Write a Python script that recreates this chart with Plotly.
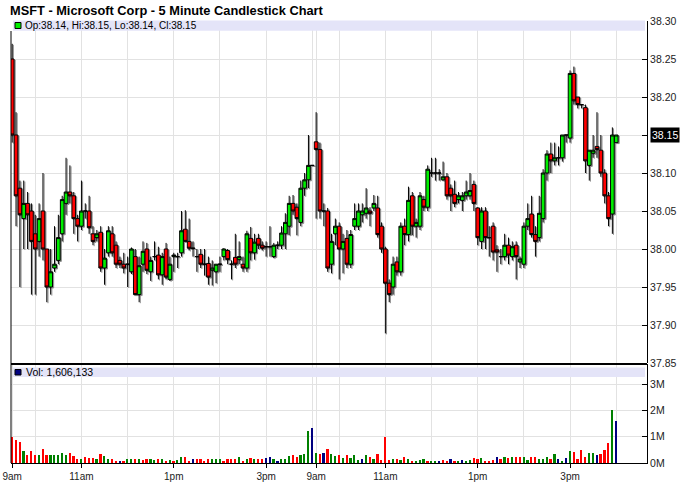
import plotly.graph_objects as go

TITLE = "MSFT - Microsoft Corp - 5 Minute Candlestick Chart"
PRICE_LEGEND = "Op:38.14, Hi:38.15, Lo:38.14, Cl:38.15"
VOL_LEGEND = "Vol: 1,606,133"
LAST_PRICE = 38.15

# ---- Day 1: 5-minute bars 9:30 .. 16:00 ----
OPEN1 = [38.25, 38.15, 38.08, 38.04, 38.06, 38.05, 38.02, 38.01, 38.05, 38.00,
         37.95, 37.975, 37.985, 38.02, 38.06, 38.075, 38.07, 38.04, 38.03, 38.05,
         38.05, 38.02, 38.015, 38.022, 37.975, 37.995, 38.02, 38.005, 37.985, 37.98,
         37.98, 37.97, 37.99, 37.94, 37.98, 38.00, 37.97, 37.99, 37.992, 37.966,
         38.00, 37.96, 37.99, 37.99, 37.995, 38.026, 38.01, 38.001, 37.99, 37.993,
         37.98, 37.981, 37.972, 37.970, 37.98, 37.99, 37.998, 37.98, 37.989, 37.986,
         37.98, 37.975, 38.014, 37.995, 38.014, 38.005, 38.003, 38.003, 37.99, 38.005,
         38.005, 38.02, 38.03, 38.06, 38.055, 38.035, 38.08, 38.091, 38.11]
HIGH1 = [38.27, 38.18, 38.09, 38.09, 38.075, 38.06, 38.045, 38.06, 38.10, 38.00,
         38.00, 38.03, 38.045, 38.07, 38.12, 38.11, 38.075, 38.045, 38.09, 38.06,
         38.07, 38.03, 38.025, 38.03, 38.00, 38.03, 38.03, 38.01, 37.99, 37.995,
         37.99, 38.002, 38.00, 37.99, 38.01, 38.008, 37.99, 38.01, 38.003, 37.995,
         38.008, 37.99, 37.995, 37.995, 38.05, 38.051, 38.04, 38.01, 38.00, 38.00,
         38.00, 37.99, 37.985, 37.98, 37.99, 38.001, 38.00, 37.985, 38.02, 38.01,
         37.99, 38.024, 38.029, 38.02, 38.02, 38.01, 38.01, 38.03, 38.008, 38.01,
         38.03, 38.047, 38.07, 38.071, 38.06, 38.09, 38.10, 38.15, 38.11]
LOW1 = [38.14, 38.03, 37.95, 38.00, 38.00, 37.94, 37.94, 37.99, 37.985, 37.93,
        37.94, 37.97, 37.98, 38.01, 38.045, 38.06, 38.02, 38.01, 38.025, 38.04,
        38.02, 38.005, 38.01, 37.97, 37.953, 37.99, 37.99, 37.975, 37.975, 37.968,
        37.95, 37.967, 37.94, 37.93, 37.97, 37.967, 37.958, 37.985, 37.96, 37.953,
        37.96, 37.958, 37.97, 37.975, 37.99, 38.01, 37.998, 37.99, 37.97, 37.975,
        37.965, 37.953, 37.952, 37.955, 37.97, 37.985, 37.98, 37.96, 37.975, 37.98,
        37.97, 37.97, 37.985, 37.986, 38.00, 37.998, 37.99, 37.99, 37.988, 38.00,
        38.00, 38.00, 38.018, 38.045, 38.018, 38.03, 38.07, 38.08, 38.11]
CLOSE1 = [38.15, 38.07, 38.045, 38.06, 38.045, 38.01, 38.00, 38.04, 38.00, 37.95,
          37.97, 37.98, 38.015, 38.065, 38.075, 38.07, 38.04, 38.03, 38.05, 38.05,
          38.028, 38.01, 38.02, 37.975, 37.988, 38.024, 37.995, 37.98, 37.98, 37.975,
          37.98, 38.00, 37.94, 37.978, 37.997, 37.972, 37.985, 37.99, 37.966, 37.99,
          37.963, 37.98, 37.992, 37.99, 38.024, 38.01, 38.001, 38.001, 37.99, 37.98,
          37.98, 37.963, 37.975, 37.98, 37.98, 38.00, 37.986, 37.98, 37.98, 37.99,
          37.975, 38.02, 37.995, 38.009, 38.005, 38.001, 38.003, 38.003, 38.005, 38.005,
          38.021, 38.035, 38.06, 38.05, 38.04, 38.08, 38.091, 38.11, 38.11]

# ---- Day 2: 5-minute bars 9:30 .. 16:00 ----
OPEN2 = [38.141, 38.131, 38.05, 38.05, 37.98, 38.02, 38.03, 38.00, 38.014, 37.98,
         38.03, 38.03, 38.045, 38.047, 38.05, 38.054, 38.054, 38.03, 38.00, 37.955,
         37.95, 37.983, 37.97, 38.03, 38.019, 38.07, 38.03, 38.03, 38.065, 38.055,
         38.10, 38.10, 38.10, 38.091, 38.095, 38.08, 38.072, 38.065, 38.064, 38.07,
         38.07, 38.085, 38.054, 38.01, 38.05, 38.015, 38.03, 37.999, 37.99, 37.99,
         38.005, 37.99, 38.005, 37.983, 37.98, 38.03, 38.046, 38.019, 38.015, 38.04,
         38.10, 38.125, 38.116, 38.12, 38.12, 38.15, 38.146, 38.231, 38.20, 38.19,
         38.186, 38.11, 38.126, 38.135, 38.13, 38.10, 38.07, 38.046, 38.14]
HIGH2 = [38.18, 38.14, 38.06, 38.054, 38.02, 38.04, 38.035, 38.02, 38.025, 38.025,
         38.06, 38.06, 38.06, 38.08, 38.055, 38.071, 38.07, 38.035, 38.003, 37.96,
         37.99, 37.99, 38.035, 38.04, 38.082, 38.075, 38.04, 38.075, 38.07, 38.11,
         38.12, 38.12, 38.105, 38.115, 38.10, 38.085, 38.09, 38.075, 38.075, 38.09,
         38.10, 38.09, 38.055, 38.055, 38.055, 38.03, 38.035, 38.005, 38.00, 38.02,
         38.015, 38.01, 38.01, 37.99, 38.035, 38.06, 38.07, 38.03, 38.07, 38.105,
         38.13, 38.14, 38.14, 38.135, 38.15, 38.15, 38.235, 38.24, 38.20, 38.19,
         38.19, 38.13, 38.15, 38.18, 38.15, 38.105, 38.075, 38.16, 38.15]
LOW2 = [38.04, 38.04, 38.03, 37.97, 37.968, 38.005, 37.96, 37.968, 37.975, 37.975,
        38.025, 38.025, 38.035, 38.04, 38.03, 38.05, 38.015, 37.995, 37.889, 37.93,
        37.94, 37.965, 37.965, 38.005, 38.01, 38.018, 38.015, 38.025, 38.05, 38.05,
        38.095, 38.09, 38.09, 38.09, 38.065, 38.05, 38.055, 38.06, 38.05, 38.065,
        38.065, 38.05, 38.005, 38.00, 38.00, 37.99, 37.985, 37.97, 37.98, 37.985,
        37.98, 37.985, 37.96, 37.975, 37.975, 38.025, 38.015, 37.99, 38.01, 38.035,
        38.09, 38.10, 38.11, 38.11, 38.115, 38.14, 38.14, 38.19, 38.185, 38.185,
        38.10, 38.09, 38.12, 38.12, 38.095, 38.06, 38.03, 38.02, 38.14]
CLOSE2 = [38.131, 38.05, 38.05, 37.975, 38.01, 38.03, 38.00, 38.01, 37.98, 38.019,
          38.04, 38.05, 38.05, 38.054, 38.047, 38.06, 38.019, 38.00, 37.955, 37.94,
          37.98, 37.97, 38.03, 38.019, 38.064, 38.03, 38.035, 38.07, 38.055, 38.105,
          38.10, 38.10, 38.10, 38.095, 38.07, 38.07, 38.06, 38.07, 38.07, 38.075,
          38.077, 38.06, 38.015, 38.05, 38.015, 38.015, 37.996, 37.996, 37.99, 38.005,
          37.992, 38.003, 37.99, 37.987, 38.03, 38.04, 38.019, 38.01, 38.047, 38.10,
          38.125, 38.116, 38.12, 38.12, 38.15, 38.15, 38.231, 38.195, 38.19, 38.19,
          38.116, 38.13, 38.13, 38.131, 38.10, 38.07, 38.04, 38.15, 38.15]

# ---- Volume (shares) ----
VOLUME1 = [980000, 890000, 800000, 470000, 290000, 470000, 290000, 290000, 550000, 290000,
           320000, 290000, 290000, 370000, 290000, 390000, 250000, 140000, 170000, 220000,
           180000, 180000, 140000, 340000, 250000, 170000, 170000, 90000, 90000, 90000,
           140000, 140000, 170000, 170000, 110000, 170000, 140000, 110000, 170000, 170000,
           90000, 110000, 90000, 110000, 240000, 220000, 90000, 140000, 140000, 140000,
           90000, 140000, 170000, 170000, 140000, 90000, 140000, 140000, 140000, 220000,
           90000, 140000, 190000, 170000, 140000, 140000, 190000, 220000, 140000, 90000,
           140000, 170000, 270000, 290000, 240000, 290000, 340000, 1230000, 1330000]
VOLUME2 = [380000, 360000, 390000, 530000, 360000, 250000, 290000, 190000, 320000, 190000,
           290000, 110000, 140000, 320000, 220000, 170000, 360000, 110000, 1000000, 110000,
           170000, 170000, 110000, 220000, 170000, 90000, 60000, 110000, 140000, 90000,
           90000, 90000, 90000, 110000, 90000, 170000, 90000, 60000, 110000, 60000,
           110000, 190000, 170000, 190000, 90000, 90000, 110000, 220000, 140000, 240000,
           190000, 240000, 240000, 240000, 240000, 110000, 240000, 240000, 170000, 170000,
           240000, 170000, 340000, 170000, 90000, 190000, 460000, 420000, 170000, 500000,
           220000, 380000, 380000, 320000, 340000, 500000, 760000, 2030000, 1606133]
# volume bar direction vs previous close: r = down, g = up, n = unchanged
VOL_DIR1 = "rrrgrrrgrr" "gggggrrrgr" "rrgrggrrnr" "ggrgrrggrg" "rgrggrrnrr" "rrgggrrrrg" "rgrgrrnngn" "gggrrgggn"
VOL_DIR2 = "grnrggrgrg" "ggngrgrrrr" "grgrgrgggr" "ggnrrnrgng" "grrgrrrnrg" "rgrrggrrgg" "grgngngrrr" "rggnrrrgn"

# ---- Axis ticks ----
TICK_BARS = [0, 18, 42, 66, 79, 97, 121, 145]
TICK_TEXT = ["9am", "11am", "1pm", "3pm", "9am", "11am", "1pm", "3pm"]
HOUR_BARS = [6, 18, 30, 42, 54, 66, 78, 79, 85, 97, 109, 121, 133, 145, 157]
PRICE_TICKS = [37.85, 37.90, 37.95, 38.00, 38.05, 38.10, 38.15, 38.20, 38.25, 38.30]
VOL_TICKS = [0, 1000000, 2000000, 3000000]
VOL_TICK_TEXT = ["0M", "1M", "2M", "3M"]

OPEN = OPEN1 + OPEN2
HIGH = HIGH1 + HIGH2
LOW = LOW1 + LOW2
CLOSE = CLOSE1 + CLOSE2
VOLUME = VOLUME1 + VOLUME2
VOL_DIR = VOL_DIR1 + VOL_DIR2
X = list(range(len(OPEN)))

# ---- layout geometry (page pixels) ----
W, H = 688, 503
PLOT_L, PLOT_R, PLOT_T, PLOT_B = 11, 647, 21, 463
ML, MR, MT, MB = PLOT_L, W - PLOT_R, PLOT_T, H - PLOT_B
PW, PH = PLOT_R - PLOT_L, PLOT_B - PLOT_T


def xp(px):
    return (px - PLOT_L) / PW


def yp(py):
    return (PLOT_B - py) / PH


FONT = "Liberation Sans, Arial, sans-serif"
GRID = "#e2e2e2"
DIR_COLORS = {"r": "#ff0000", "g": "#008000", "n": "#000080"}
XRANGE = [-0.31, 165.0]
YRANGE = [37.85, 38.30]
SHADOW_DX = 0.3      # shadow offset, bar units (to the right)
SHADOW_DY = 0.0013   # shadow offset, price units (downwards)

fig = go.Figure()

# grey drop shadow: same candles drawn on an overlay axis pair whose range is shifted
fig.add_trace(go.Candlestick(
    x=X, open=OPEN, high=HIGH, low=LOW, close=CLOSE,
    increasing=dict(line=dict(color="#8c8c8c", width=1), fillcolor="#8c8c8c"),
    decreasing=dict(line=dict(color="#8c8c8c", width=1), fillcolor="#8c8c8c"),
    whiskerwidth=0, xaxis="x3", yaxis="y3", showlegend=False, hoverinfo="skip",
))

fig.add_trace(go.Candlestick(
    x=X, open=OPEN, high=HIGH, low=LOW, close=CLOSE,
    increasing=dict(line=dict(color="#000000", width=1), fillcolor="#00ee00"),
    decreasing=dict(line=dict(color="#000000", width=1), fillcolor="#ff0000"),
    whiskerwidth=0, xaxis="x4", yaxis="y4", showlegend=False, hoverinfo="skip",
))

fig.add_trace(go.Bar(
    x=X, y=VOLUME, width=0.45,
    marker=dict(color=[DIR_COLORS[d] for d in VOL_DIR], line=dict(width=0)),
    xaxis="x2", yaxis="y2", showlegend=False, hoverinfo="skip",
))

price_bottom = yp(363)
vol_top = yp(364)

hidden = dict(visible=False, showgrid=False, zeroline=False, automargin=False)

fig.update_layout(
    width=W, height=H,
    margin=dict(l=ML, r=MR, t=MT, b=MB, autoexpand=False),
    paper_bgcolor="white", plot_bgcolor="white",
    font=dict(family=FONT, size=10, color="#222222"),
    boxgap=0.05, boxgroupgap=0, boxmode="overlay",
    xaxis=dict(domain=[0, 1], anchor="y", range=XRANGE, tickmode="array",
               tickvals=HOUR_BARS, showticklabels=False, ticks="",
               showgrid=True, gridcolor=GRID, gridwidth=1, zeroline=False,
               rangeslider=dict(visible=False), showline=False, automargin=False),
    xaxis2=dict(domain=[0, 1], anchor="y2", range=XRANGE, tickmode="array",
                tickvals=TICK_BARS, ticktext=TICK_TEXT, ticks="outside",
                ticklen=4, tickcolor="#000000", tickfont=dict(size=10, color="#222222"),
                showgrid=True, gridcolor=GRID, zeroline=False,
                showline=True, linecolor="#000000", linewidth=1, automargin=False,
                ticklabeloverflow="allow",
                minor=dict(tickvals=HOUR_BARS, showgrid=True, gridcolor=GRID, ticks="")),
    xaxis3=dict(overlaying="x", anchor="y3",
                range=[XRANGE[0] - SHADOW_DX, XRANGE[1] - SHADOW_DX],
                rangeslider=dict(visible=False), **hidden),
    xaxis4=dict(overlaying="x", anchor="y4", range=XRANGE,
                rangeslider=dict(visible=False), **hidden),
    yaxis=dict(domain=[price_bottom, 1], anchor="x", side="right",
               range=YRANGE, tickmode="array", tickvals=PRICE_TICKS,
               ticktext=["" if abs(v - LAST_PRICE) < 1e-9 else "%.2f" % v for v in PRICE_TICKS],
               ticks="inside", ticklen=5, tickcolor="#000000",
               tickfont=dict(size=10.5, color="#222222"),
               showgrid=True, gridcolor=GRID, zeroline=False, automargin=False,
               showline=True, linecolor="#000000", linewidth=1),
    yaxis3=dict(overlaying="y", anchor="x3",
                range=[YRANGE[0] + SHADOW_DY, YRANGE[1] + SHADOW_DY], **hidden),
    yaxis4=dict(overlaying="y", anchor="x4", range=YRANGE, **hidden),
    yaxis2=dict(domain=[0, vol_top], anchor="x2", side="right",
                range=[0, 3780000], tickmode="array", tickvals=VOL_TICKS,
                ticktext=VOL_TICK_TEXT, ticks="inside", ticklen=5, tickcolor="#000000",
                tickfont=dict(size=10.5, color="#222222"),
                showgrid=True, gridcolor=GRID, zeroline=False, automargin=False,
                showline=True, linecolor="#000000", linewidth=1),
    bargap=0,
)

shapes = [
    # legend bands
    dict(type="rect", xref="paper", yref="paper", x0=xp(13), x1=xp(645),
         y0=yp(30.7), y1=yp(20.5), fillcolor="#e4e4f8", line=dict(width=0), layer="above"),
    dict(type="rect", xref="paper", yref="paper", x0=xp(13), x1=xp(645),
         y0=yp(377), y1=yp(367.5), fillcolor="#e4e4f8", line=dict(width=0), layer="above"),
    # legend swatches
    dict(type="rect", xref="paper", yref="paper", x0=xp(15), x1=xp(21),
         y0=yp(28.5), y1=yp(22.5), fillcolor="#00ee00",
         line=dict(color="#000000", width=1), layer="above"),
    dict(type="rect", xref="paper", yref="paper", x0=xp(15), x1=xp(21),
         y0=yp(375), y1=yp(369.5), fillcolor="#000080",
         line=dict(color="#000000", width=1), layer="above"),
    # panel separator and left border
    dict(type="line", xref="paper", yref="paper", x0=0, x1=1,
         y0=yp(364), y1=yp(364), line=dict(color="#000000", width=2), layer="above"),
    dict(type="line", xref="paper", yref="paper", x0=0, x1=0,
         y0=0, y1=yp(31), line=dict(color="#000000", width=1), layer="above"),
]

annotations = [
    dict(text="<b>" + TITLE + "</b>", xref="paper", yref="paper",
         x=xp(8), y=yp(10), xanchor="left", yanchor="middle", showarrow=False,
         font=dict(family=FONT, size=12.8, color="#000000")),
    dict(text=PRICE_LEGEND, xref="paper", yref="paper", x=xp(23), y=yp(25.8),
         xanchor="left", yanchor="middle", showarrow=False,
         font=dict(family=FONT, size=10, color="#000000")),
    dict(text=VOL_LEGEND, xref="paper", yref="paper", x=xp(24), y=yp(372.3),
         xanchor="left", yanchor="middle", showarrow=False,
         font=dict(family=FONT, size=10.5, color="#000000")),
    dict(text="%.2f" % LAST_PRICE, xref="paper", yref="y", x=1, xshift=3,
         y=LAST_PRICE, xanchor="left", yanchor="middle", showarrow=False,
         bgcolor="#000000", borderpad=1,
         font=dict(family=FONT, size=10.5, color="#ffffff")),
]

fig.update_layout(shapes=shapes, annotations=annotations)

# the page's default body margin would offset the fixed-size chart
fig.write_html("out.html", config={"displayModeBar": False},
               post_script="document.body.style.margin='0px';")
